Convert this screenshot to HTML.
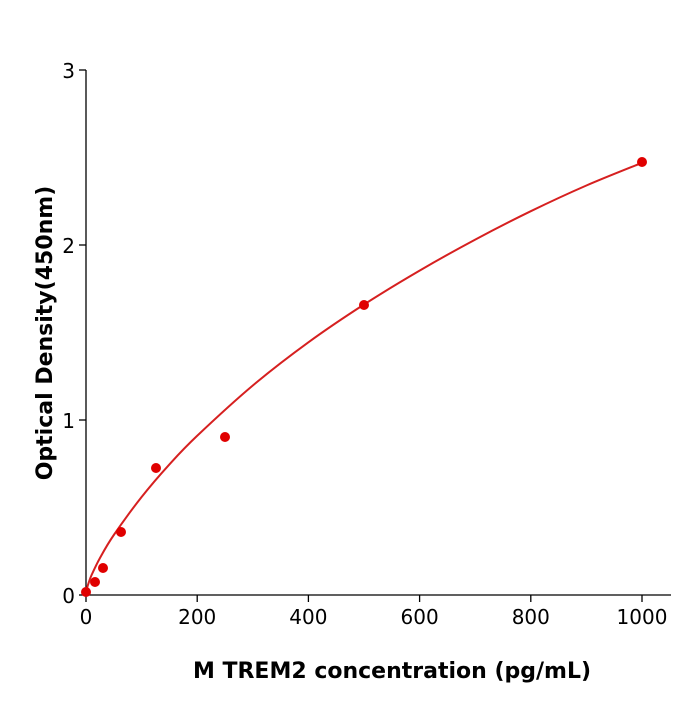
<!DOCTYPE html>
<html><head><meta charset="utf-8"><style>body{margin:0;background:#fff}</style></head>
<body>
<svg width="700" height="700" xmlns="http://www.w3.org/2000/svg" font-family="DejaVu Sans, Liberation Sans, sans-serif">
<g stroke="#000" stroke-width="1.3" fill="none">
<line x1="86" y1="70" x2="86" y2="595"/>
<line x1="86" y1="595" x2="671" y2="595"/>
<line x1="79" y1="70" x2="86" y2="70"/>
<line x1="79" y1="245" x2="86" y2="245"/>
<line x1="79" y1="420" x2="86" y2="420"/>
<line x1="79" y1="595" x2="86" y2="595"/>
<line x1="86" y1="595" x2="86" y2="602"/>
<line x1="197.2" y1="595" x2="197.2" y2="602"/>
<line x1="308.4" y1="595" x2="308.4" y2="602"/>
<line x1="419.6" y1="595" x2="419.6" y2="602"/>
<line x1="530.8" y1="595" x2="530.8" y2="602"/>
<line x1="642" y1="595" x2="642" y2="602"/>
</g>
<g font-size="20" fill="#000" text-anchor="end">
<text x="75" y="78">3</text>
<text x="75" y="253">2</text>
<text x="75" y="428">1</text>
<text x="75" y="603">0</text>
</g>
<g font-size="20" fill="#000" text-anchor="middle">
<text x="86" y="624">0</text>
<text x="197.2" y="624">200</text>
<text x="308.4" y="624">400</text>
<text x="419.6" y="624">600</text>
<text x="530.8" y="624">800</text>
<text x="642" y="624">1000</text>
</g>
<text x="392" y="678" font-size="22" font-weight="bold" text-anchor="middle">M  TREM2 concentration (pg/mL)</text>
<text transform="translate(52,333) rotate(-90)" font-size="22" font-weight="bold" text-anchor="middle">Optical Density(450nm)</text>
<path id="crv" fill="none" stroke="#d62020" stroke-width="2" d="M86,595 L87.1,588 L88.8,582.4 L91.6,575 L99.9,558.1 L113.8,535 L141.6,497 L169.4,464.4 L197.2,435.75 L252.8,385.5 L308.4,342.3 L364,304.5 L419.6,270.6 L475.2,239.6 L530.8,211.2 L586.4,185.5 L642,162.8"/>
<g fill="#e00000">
<circle cx="86" cy="592" r="5"/>
<circle cx="95" cy="582" r="5"/>
<circle cx="103" cy="568" r="5"/>
<circle cx="121" cy="532" r="5"/>
<circle cx="156" cy="468" r="5"/>
<circle cx="225" cy="437" r="5"/>
<circle cx="364" cy="305" r="5"/>
<circle cx="642" cy="162" r="5"/>
</g>
</svg>
<script>
var p=[[86,595],[86,595],[87.1,588],[88.8,582.4],[91.6,575],[99.9,558.1],[113.8,535],[141.6,497],[169.4,464.4],[197.2,435.75],[252.8,385.5],[308.4,342.3],[364,304.5],[419.6,270.6],[475.2,239.6],[530.8,211.2],[586.4,185.5],[642,162.8],[642,162.8]];
var d="M86,595";
for(var i=1;i<p.length-2;i++){var a=p[i-1],b=p[i],c=p[i+1],e=p[i+2];
d+=" C"+(b[0]+(c[0]-a[0])/6)+","+(b[1]+(c[1]-a[1])/6)+" "+(c[0]-(e[0]-b[0])/6)+","+(c[1]-(e[1]-b[1])/6)+" "+c[0]+","+c[1];}
document.getElementById("crv").setAttribute("d",d);
</script>
</body></html>
